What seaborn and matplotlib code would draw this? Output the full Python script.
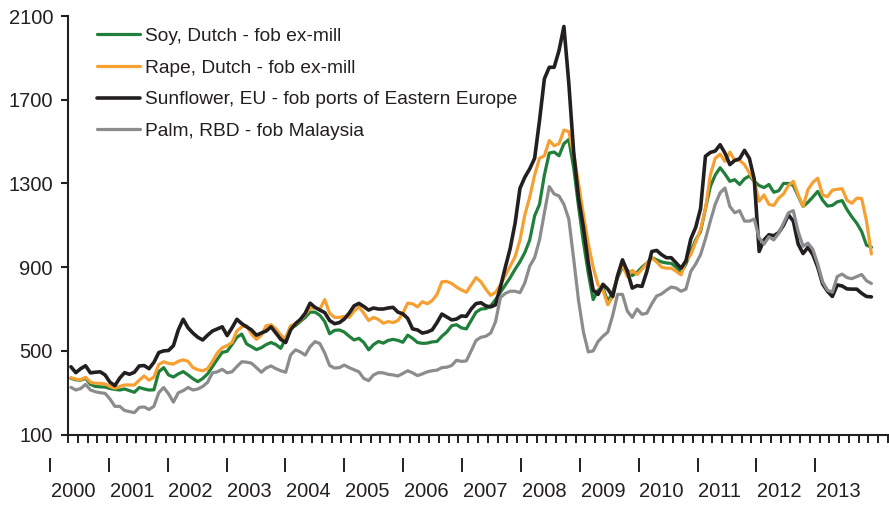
import numpy as np
import pandas as pd
import matplotlib
matplotlib.use("Agg")
import matplotlib.pyplot as plt
import seaborn as sns

# Monthly vegetable oil prices (USD/tonne), Jan 2000 onwards
soy = [
    369, 362, 360, 369, 340, 330, 328, 327, 320, 316, 313, 318,
    310, 302, 325, 318, 313, 314, 400, 420, 385, 375, 390, 401,
    385, 367, 353, 368, 390, 425, 460, 493, 498, 530, 565, 580,
    533, 520, 506, 515, 530, 540, 530, 512, 560, 616, 620, 640,
    660, 685, 685, 670, 640, 582, 598, 600, 590, 570, 552, 560,
    540, 505, 530, 545, 537, 550, 555, 550, 541, 575, 560, 540,
    536, 537, 543, 545, 570, 590, 620, 625, 610, 605, 645, 685,
    700, 702, 715, 745, 780, 815, 850, 890, 926, 970, 1030, 1145,
    1200, 1340, 1445, 1450, 1432, 1490, 1510, 1375, 1190, 1020, 870, 745,
    790, 800, 735, 780, 850, 900, 885, 860, 875, 900, 920, 945,
    935, 925, 920, 918, 900, 875, 915, 975, 1030, 1070, 1180, 1285,
    1340, 1375, 1345, 1310, 1318, 1295, 1322, 1336, 1310, 1290, 1280, 1295,
    1258, 1265, 1300, 1300, 1290, 1240, 1190, 1210, 1235, 1262, 1220, 1192,
    1195, 1212, 1218, 1175, 1140, 1110, 1070, 1005, 995,
]
rape = [
    372, 365, 362, 374, 350, 345, 345, 342, 330, 321, 330, 337,
    337, 337, 360, 380, 360, 375, 435, 448, 440, 437, 450, 457,
    450, 420, 410, 405, 415, 450, 490, 515, 525, 540, 595, 615,
    620, 580, 555, 575, 620, 625, 605, 575, 555, 620, 628, 645,
    675, 703, 705, 700, 745, 680, 660, 660, 665, 660, 690, 710,
    680, 645, 660, 650, 632, 640, 635, 645, 680, 728, 725, 710,
    735, 725, 740, 770, 830, 832, 822, 805, 791, 780, 815, 850,
    830, 795, 765, 780, 815, 860, 905, 950, 1030, 1150, 1235, 1340,
    1420, 1432, 1505, 1480, 1490, 1555, 1548, 1440, 1300, 1150, 1010, 900,
    815, 790, 720, 760, 860, 910, 855, 885, 865, 890, 919, 945,
    925, 900, 895, 895, 880, 863, 930, 960, 1020, 1080, 1180, 1340,
    1420, 1440, 1405, 1450, 1410, 1410, 1390, 1350, 1310, 1215, 1245, 1200,
    1195, 1230, 1250, 1290, 1310, 1245, 1190, 1270, 1305, 1325, 1245, 1237,
    1268, 1272, 1275, 1220, 1205, 1230, 1228, 1120, 963,
]
sunflower = [
    424, 396, 415, 429, 395, 398, 400, 385, 350, 334, 370, 396,
    388, 398, 428, 430, 415, 445, 492, 500, 502, 525, 600, 651,
    610, 585, 565, 552, 575, 595, 605, 615, 573, 610, 651, 630,
    615, 600, 575, 585, 595, 615, 585, 555, 540, 600, 630, 650,
    680, 728, 708, 695, 683, 645, 630, 635, 652, 680, 715, 727,
    712, 695, 705, 700, 700, 705, 708, 685, 677, 655, 605, 600,
    585, 590, 600, 635, 676, 662, 648, 652, 667, 665, 700, 726,
    730, 715, 710, 720, 805, 900, 990, 1110, 1277, 1330, 1370, 1420,
    1600, 1800, 1855, 1855, 1935, 2050, 1780, 1450, 1230, 1090, 920, 790,
    770, 818, 795, 760, 860, 935, 880, 800, 812, 808, 880, 975,
    980, 960, 945, 945, 920, 895, 930, 1035, 1090, 1180, 1430, 1448,
    1455, 1485, 1445, 1390, 1410, 1418, 1458, 1420, 1320, 975, 1030, 1055,
    1050, 1065, 1100, 1150, 1120, 1010, 965, 995, 960, 900, 820, 785,
    760, 815, 810, 796, 795, 795, 775, 760, 758,
]
palm = [
    326, 313, 320, 340, 313, 305, 300, 297, 270, 235, 235, 215,
    210, 205, 230, 232, 220, 235, 300, 325, 295, 255, 300, 310,
    325, 313, 318, 330, 350, 395, 400, 412, 395, 400, 425, 448,
    446, 441, 420, 398, 418, 428, 415, 405, 398, 480, 505, 495,
    480, 520, 544, 535, 490, 430, 418, 420, 432, 420, 410, 400,
    368, 358, 385, 396, 395, 388, 385, 380, 392, 405, 395, 382,
    390, 400, 405, 408, 420, 422, 430, 455, 450, 452, 500, 550,
    565, 570, 585, 640, 755, 775, 785, 785, 778, 825, 905, 945,
    1030, 1160, 1285, 1250, 1240, 1200, 1130, 940, 740, 590, 495, 500,
    545, 570, 590, 670, 770, 770, 690, 660, 700, 675, 680, 725,
    762, 772, 790, 805, 800, 785, 795, 880, 915, 960, 1035, 1120,
    1200, 1255, 1278, 1190, 1160, 1170, 1120, 1120, 1130, 1040, 1010, 1045,
    1030, 1062, 1110, 1160, 1170, 1070, 1000, 1015, 985, 915, 830, 790,
    780, 855, 867, 850, 845, 855, 865, 835, 822,
]

series_names = [
    "Soy, Dutch - fob ex-mill",
    "Rape, Dutch - fob ex-mill",
    "Sunflower, EU - fob ports of Eastern Europe",
    "Palm, RBD - fob Malaysia",
]
series_colors = ["#1f7f3b", "#f7a032", "#231f20", "#8c8c8e"]
series_widths = [2.3, 2.3, 2.6, 2.3]
years = list(range(2000, 2014))
y_ticks = [100, 500, 900, 1300, 1700, 2100]

sns.set_style("ticks")
plt.rcParams["font.family"] = ["Liberation Sans", "DejaVu Sans"]
ink = "#231f20"

months = np.arange(len(soy))
df = pd.DataFrame({
    "month": np.tile(months, 4),
    "price": np.concatenate([soy, rape, sunflower, palm]),
    "series": np.repeat(series_names, len(soy)),
})

W, H = 889, 505
fig = plt.figure(figsize=(W / 100, H / 100), dpi=100)
ax = fig.add_axes([68 / W, 1 - 434.6 / H, 820 / W, 418.6 / H])

for name, color, lw in zip(series_names, series_colors, series_widths):
    sns.lineplot(data=df[df["series"] == name], x="month", y="price",
                 color=color, linewidth=lw, label=name, ax=ax,
                 solid_joinstyle="round")

x0, x1 = -0.6, 167.4
ax.set_xlim(x0, x1)
ax.set_ylim(100, 2100)
ax.set_yticks(y_ticks)
ax.set_xticks(np.arange(x0, x1 + 0.01, 2.0))
ax.set_xticklabels([])
ax.set_xlabel("")
ax.set_ylabel("")

for side in ("top", "right"):
    ax.spines[side].set_visible(False)
for side in ("left", "bottom"):
    ax.spines[side].set_linewidth(1.5)
    ax.spines[side].set_color(ink)

ax.tick_params(axis="y", direction="out", length=4.8, width=1.5, color=ink,
               labelsize=14.5, labelcolor=ink, pad=6)
ax.tick_params(axis="x", direction="out", length=5.8, width=1.4, color=ink)

# Year markers on a second row below the axis
year_pos = np.linspace(-4.3, 152.5, len(years))
xt = ax.get_xaxis_transform()
for yr, xp in zip(years, year_pos):
    ax.plot([xp, xp], [-0.0559, -0.0893], transform=xt, color=ink,
            linewidth=1.4, clip_on=False, solid_capstyle="butt")
    ax.text(xp + 0.15, -0.137, str(yr), transform=xt, ha="left", va="center",
            fontsize=14.5, color=ink)

leg = ax.legend(loc="upper left", bbox_to_anchor=(0.0354, 0.973), frameon=False,
                fontsize=13.8, handlelength=2.24, handletextpad=0.26,
                labelspacing=0.75, borderaxespad=0, borderpad=0)
for txt in leg.get_texts():
    txt.set_color(ink)

fig.savefig("out.png", dpi=100)
